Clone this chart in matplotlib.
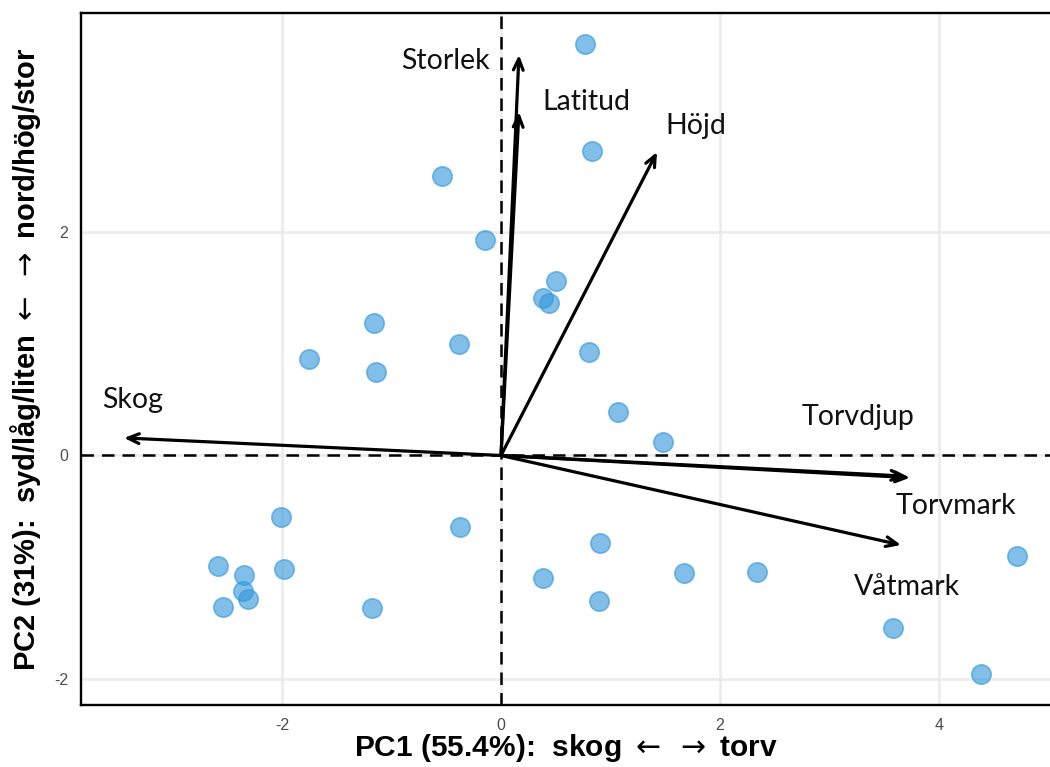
import matplotlib
matplotlib.use("Agg")
import matplotlib.pyplot as plt

# ---- data ----
pc1 = [0.767, 0.831, -0.539, -0.146, 0.502, 0.384, 0.438, -1.160, -1.753, -0.384,
       -1.142, 0.804, 1.068, 1.479, -2.009, -0.374, -2.584, -2.347, -1.982, -2.356,
       -2.311, -2.539, -1.178, 0.904, 0.384, 0.895, 1.671, 2.338, 3.580, 4.384, 4.712]
pc2 = [3.682, 2.725, 2.501, 1.928, 1.562, 1.409, 1.365, 1.186, 0.864, 0.998,
       0.747, 0.926, 0.389, 0.121, -0.550, -0.640, -0.989, -1.069, -1.016, -1.213,
       -1.284, -1.356, -1.365, -0.783, -1.096, -1.302, -1.051, -1.043, -1.544, -1.955, -0.899]

var_names = ["Storlek", "Latitud", "Höjd", "Skog", "Torvdjup", "Torvmark", "Våtmark"]
load_x = [0.164, 0.164, 1.425, -3.443, 3.70, 3.735, 3.653]
load_y = [3.584, 3.074, 2.716, 0.157, -0.185, -0.199, -0.801]
label_x = [-0.511, 0.776, 1.781, -3.361, 3.26, 4.155, 3.708]
label_y = [3.530, 3.163, 2.948, 0.497, 0.345, -0.452, -1.177]

xticks = [-2, 0, 2, 4]
yticks = [-2, 0, 2]
xlabel = "PC1 (55.4%):  skog $\\leftarrow$ $\\rightarrow$ torv"
ylabel = "PC2 (31%):  syd/låg/liten $\\leftarrow$ $\\rightarrow$ nord/hög/stor"

# ---- figure ----
fig = plt.figure(figsize=(10.5, 7.67), dpi=100)
ax = fig.add_axes([81/1050, 62/767, 1 - 81/1050, (705 - 13.3)/767])
ax.set_xlim(-3.836, 5.014)
ax.set_ylim(-2.233, 3.957)

ax.set_xticks(xticks)
ax.set_yticks(yticks)
ax.set_xticklabels([str(t) for t in xticks])
ax.set_yticklabels([str(t) for t in yticks])
ax.grid(True, color="#ebebeb", linewidth=1.8)
ax.set_axisbelow(True)
ax.tick_params(length=0, labelsize=11.5, labelcolor="#4d4d4d", pad=9)
for lab in ax.get_xticklabels() + ax.get_yticklabels():
    lab.set_fontfamily("Liberation Sans")

for s in ["left", "bottom", "top"]:
    ax.spines[s].set_linewidth(1.7)
    ax.spines[s].set_color("black")
ax.spines["right"].set_visible(False)

ax.axhline(0, color="black", linewidth=1.8, dashes=(5, 3.2), zorder=2)
ax.axvline(0, color="black", linewidth=1.8, dashes=(5, 3.2), zorder=2)

ax.scatter(pc1, pc2, s=195, color="#3498db", alpha=0.62, edgecolor="#3498db",
           linewidth=1.2, zorder=3)

for name, lx, ly, tx, ty in zip(var_names, load_x, load_y, label_x, label_y):
    ax.annotate("", xy=(lx, ly), xytext=(0, 0),
                arrowprops=dict(arrowstyle="->,head_length=0.8,head_width=0.35",
                                color="black", lw=2.3, shrinkA=0, shrinkB=0),
                zorder=4)
    ax.text(tx, ty, name, ha="center", va="center", fontsize=20.5,
            family="Lato", color="#111111", zorder=5)

ax.set_xlabel(xlabel, fontsize=21.5, fontweight="bold", family="Liberation Sans",
              labelpad=0)
ax.set_ylabel(ylabel, fontsize=21, fontweight="bold", family="Liberation Sans",
              labelpad=8)

fig.savefig("out.png", dpi=100)
